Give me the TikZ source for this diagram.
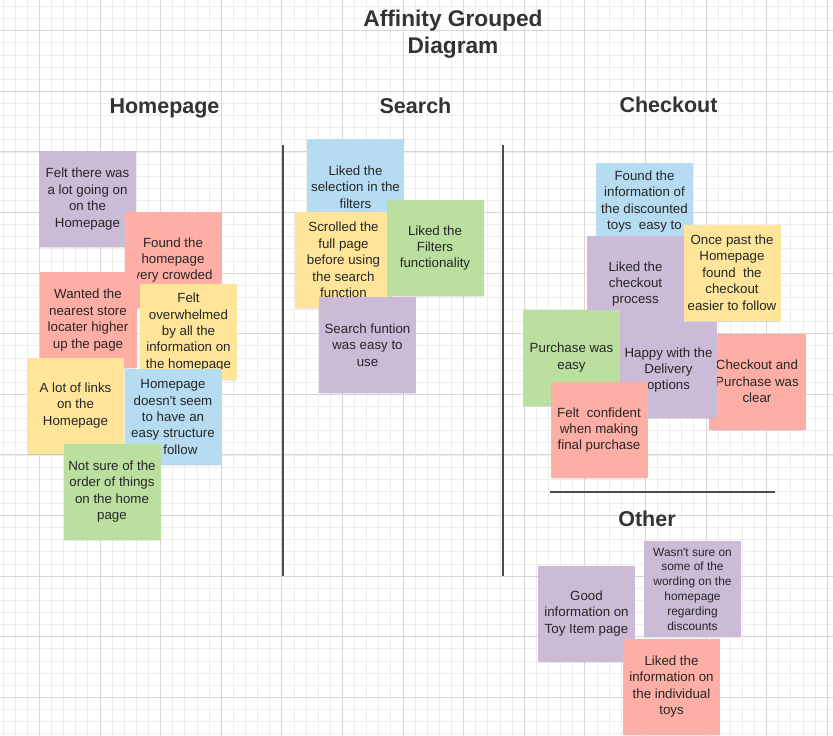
\documentclass[tikz,border=0pt]{standalone}
\usepackage{fontspec}
\setmainfont{Liberation Sans}
\usetikzlibrary{shadows}
\definecolor{stickypurple}{HTML}{CBBBD6}
\definecolor{stickyred}{HTML}{FFAEA6}
\definecolor{stickyyellow}{HTML}{FFE599}
\definecolor{stickyblue}{HTML}{B6DCF2}
\definecolor{stickygreen}{HTML}{BADF9F}
\begin{document}
\begin{tikzpicture}[x=1pt,y=-1pt,
  sticky/.style={minimum width=97pt,minimum height=96pt,inner sep=1pt,align=center,
    font=\fontsize{13.3}{16.4}\selectfont,text=black!85,
    drop shadow={shadow xshift=0pt,shadow yshift=-3pt,shadow scale=0.97,opacity=0.18}},
  hdr/.style={anchor=base,align=center,font=\fontsize{21.5}{27}\selectfont\bfseries,text=black!80},
  divider/.style={draw=black!70,line width=1.6pt}]
\useasboundingbox (0,0) rectangle (833,736);
\fill[white] (0,0) rectangle (833,736);
% grid paper
\foreach \i in {0,...,68} \draw[black!7,line width=0.6pt] ({2.94+12.12*\i},0) -- ({2.94+12.12*\i},736);
\foreach \i in {0,...,60} \draw[black!7,line width=0.6pt] (0,{6.36+12.12*\i}) -- (833,{6.36+12.12*\i});
\foreach \i in {0,...,13} \draw[black!16,line width=0.8pt] ({39.3+60.6*\i},0) -- ({39.3+60.6*\i},736);
\foreach \i in {0,...,11} \draw[black!16,line width=0.8pt] (0,{30.6+60.6*\i}) -- (833,{30.6+60.6*\i});
% titles
\node[hdr,font=\fontsize{22.7}{27}\selectfont\bfseries] (title) at (453,53) {Affinity Grouped\\Diagram};
\node[hdr] (hhome) at (164.5,113.5) {Homepage};
\node[hdr] (hsearch) at (415.5,113.5) {Search};
\node[hdr] (hcheck) at (668.5,112.5) {Checkout};
\node[hdr] (hother) at (647,526.5) {Other};
% dividers
\coordinate (divlt) at (283,145); \coordinate (divlb) at (283,576);
\coordinate (divrt) at (503,145); \coordinate (divrb) at (503,576);
\coordinate (divol) at (550,492); \coordinate (divor) at (775,492);
\draw[divider] (divlt) -- (divlb);
\draw[divider] (divrt) -- (divrb);
\draw[divider,line width=1.3pt] (divol) -- (divor);
% homepage
\node[sticky,fill=stickypurple] (hpbusy) at (87.5,199) {Felt there was\\a lot going on\\on the\\Homepage};
\node[sticky,fill=stickyred] (hpcrowded) at (173,260) {Found the\\homepage\\very crowded};
\node[sticky,fill=stickyred] (hplocator) at (88,320) {Wanted the\\nearest store\\locater higher\\up the page};
\node[sticky,fill=stickyyellow] (hpoverwhelm) at (188.5,332) {Felt\\overwhelmed\\by all the\\information on\\the homepage};
\node[sticky,fill=stickyyellow] (hplinks) at (75.5,405.5) {A lot of links\\on the\\Homepage};
\node[sticky,fill=stickyblue] (hpstructure) at (173,417) {Homepage\\doesn\textquotesingle t seem\\to have an\\easy structure\\to follow};
\node[sticky,fill=stickygreen] (hporder) at (112,491.5) {Not sure of the\\order of things\\on the home\\page};
% search
\node[sticky,fill=stickyblue] (srselect) at (355.5,187) {Liked the\\selection in the\\filters};
\node[sticky,fill=stickyyellow] (srscroll) at (343.5,260) {Scrolled the\\full page\\before using\\the search\\function};
\node[sticky,fill=stickygreen] (srfilters) at (435,248) {Liked the\\Filters\\functionality};
\node[sticky,fill=stickypurple] (sreasy) at (367.5,345) {Search funtion\\was easy to\\use};
% checkout
\node[sticky,fill=stickyblue] (cotoys) at (644.5,211) {Found the\\information of\\the discounted\\toys~ easy to\\\strut};
\node[sticky,fill=stickypurple] (coprocess) at (635.5,284) {Liked the\\checkout\\process};
\node[sticky,fill=stickyyellow] (cofollow) at (732,272.5) {Once past the\\Homepage\\found~ the\\checkout\\easier to follow};
\node[sticky,fill=stickyred] (coclear) at (757,381.5) {Checkout and\\Purchase was\\clear};
\node[sticky,fill=stickypurple] (codelivery) at (668.5,370) {Happy with the\\Delivery\\options};
\node[sticky,fill=stickygreen] (coeasy) at (571.5,357.5) {Purchase was\\easy};
\node[sticky,fill=stickyred] (coconfident) at (599,430) {Felt~ confident\\when making\\final purchase};
% other
\node[sticky,fill=stickypurple] (otitem) at (586.5,613.5) {Good\\information on\\Toy Item page};
\node[sticky,fill=stickypurple,font=\fontsize{11.9}{14.8}\selectfont] (otwording) at (692.5,589) {Wasn\textquotesingle t sure on\\some of the\\wording on the\\homepage\\regarding\\discounts};
\node[sticky,fill=stickyred] (ottoys) at (671.5,686.5) {Liked the\\information on\\the individual\\toys};
\end{tikzpicture}
\end{document}
